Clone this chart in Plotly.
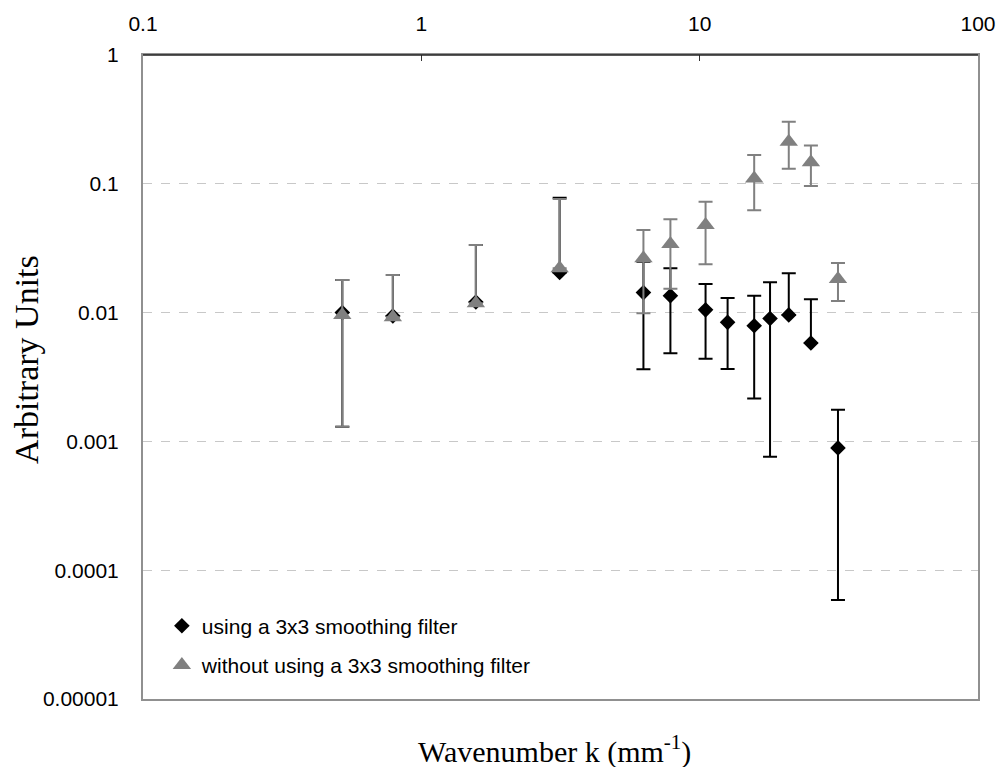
import plotly.graph_objects as go

# Wavenumber k (mm^-1)
k_filtered = [0.52, 0.79, 1.57, 3.14, 6.28, 7.85, 10.5, 12.6, 15.7, 17.9, 20.9, 25.1, 31.4]
v_filtered = [0.0100, 0.0094, 0.0121, 0.0205, 0.0143, 0.0135, 0.0105, 0.0084, 0.0079, 0.0090, 0.0096, 0.0058, 0.00089]
hi_filtered = [0.0179, 0.0196, 0.0335, 0.078, 0.0248, 0.0221, 0.0167, 0.0130, 0.0135, 0.0172, 0.0202, 0.0127, 0.00176]
lo_filtered = [0.0013, 0.0094, 0.0121, 0.0205, 0.00363, 0.00483, 0.00439, 0.00365, 0.00215, 0.00076, 0.0096, 0.0058, 0.0000587]

k_raw = [0.52, 0.79, 1.57, 3.14, 6.28, 7.85, 10.5, 15.7, 20.9, 25.1, 31.4]
v_raw = [0.0096, 0.0092, 0.0118, 0.0221, 0.0264, 0.0341, 0.0479, 0.110, 0.212, 0.147, 0.0182]
hi_raw = [0.0179, 0.0196, 0.0335, 0.0762, 0.0438, 0.053, 0.0726, 0.167, 0.303, 0.198, 0.0243]
lo_raw = [0.0013, 0.0092, 0.0118, 0.0221, 0.0099, 0.0153, 0.0237, 0.0622, 0.131, 0.0962, 0.0123]

x_ticks = [0.1, 1, 10, 100]
x_ticktext = ["0.1", "1", "10", "100"]
y_ticks = [1e-5, 1e-4, 1e-3, 1e-2, 1e-1, 1]
y_ticktext = ["0.00001", "0.0001", "0.001", "0.01", "0.1", "1"]

GRAY = "#808080"


def bars(vals, hi, lo):
    plus = [h - v for h, v in zip(hi, vals)]
    minus = [v - l for v, l in zip(vals, lo)]
    return plus, minus


fp, fm = bars(v_filtered, hi_filtered, lo_filtered)
rp, rm = bars(v_raw, hi_raw, lo_raw)

fig = go.Figure()
fig.add_trace(go.Scatter(
    x=k_filtered, y=v_filtered, mode="markers",
    name="using a 3x3 smoothing filter", legendgroup="a",
    marker=dict(symbol="diamond", size=12, color="black"),
    error_y=dict(type="data", symmetric=False, array=fp, arrayminus=fm,
                 color="black", thickness=2, width=7),
))
fig.add_trace(go.Scatter(
    x=k_raw, y=v_raw, mode="markers",
    name="without using a 3x3 smoothing filter", legendgroup="b",
    marker=dict(symbol="triangle-up", size=16, color=GRAY),
    error_y=dict(type="data", symmetric=False, array=rp, arrayminus=rm,
                 color=GRAY, thickness=2, width=7),
))

fig.update_layout(
    width=1008, height=767,
    margin=dict(l=143, r=26, t=55, b=68),
    paper_bgcolor="white", plot_bgcolor="white",
    font=dict(family="Liberation Sans, Arial, sans-serif", size=21, color="black"),
    showlegend=True,
    legend=dict(x=0.0226, y=0.145, xanchor="left", yanchor="top",
                bgcolor="rgba(0,0,0,0)", font=dict(size=21),
                tracegroupgap=9),
    xaxis=dict(type="log", range=[-1, 2], side="top",
               tickvals=x_ticks, ticktext=x_ticktext,
               ticks="inside", ticklen=6, tickcolor="#333", tickwidth=1,
               showgrid=False, zeroline=False,
               showline=True, linecolor="#909090", linewidth=2, mirror=True,
               ticklabelstandoff=14),
    yaxis=dict(type="log", range=[-5, 0],
               tickvals=y_ticks, ticktext=y_ticktext,
               ticks="", showgrid=True, gridcolor="#c8c8c8", griddash="dash",
               gridwidth=1, zeroline=False,
               showline=True, linecolor="#909090", linewidth=2, mirror=True,
               ticklabelstandoff=18),
    shapes=[dict(type="line", xref="paper", yref="paper", x0=0, x1=1, y0=1, y1=1,
                 line=dict(color="#222", width=1.5))],
    annotations=[
        dict(text="Wavenumber k (mm<sup>-1</sup>)", xref="paper", yref="paper",
             x=0.493, y=-0.078, xanchor="center", yanchor="middle", showarrow=False,
             font=dict(family="Liberation Serif, Times New Roman, serif", size=30)),
        dict(text="Arbitrary Units", xref="paper", yref="paper",
             x=-0.139, y=0.528, xanchor="center", yanchor="middle", showarrow=False,
             textangle=-90,
             font=dict(family="Liberation Serif, Times New Roman, serif", size=34)),
    ],
)

fig.write_html("out.html")
